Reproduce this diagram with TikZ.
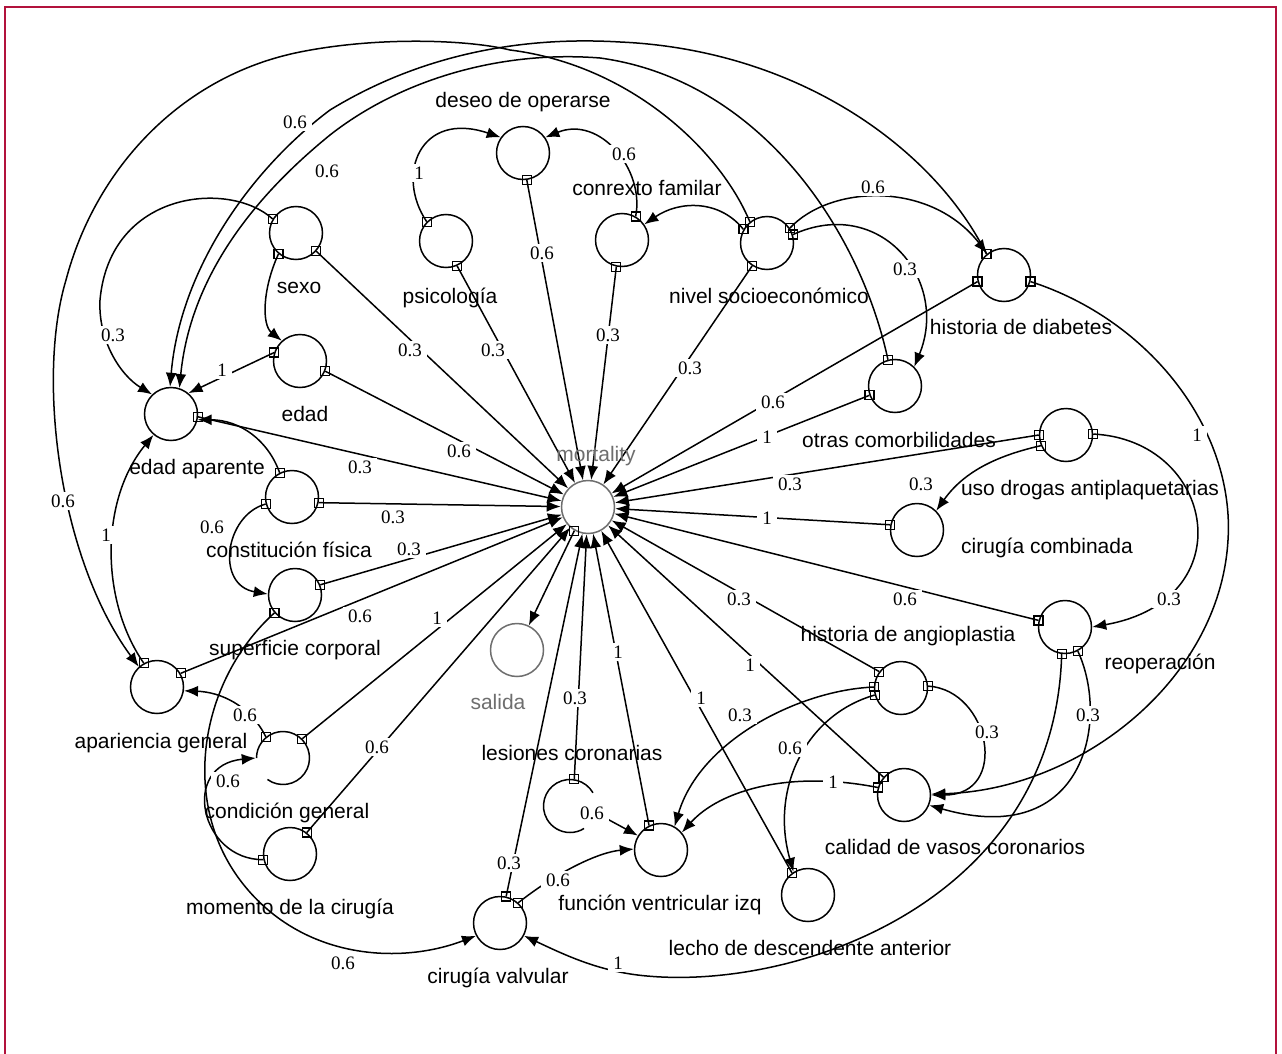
\documentclass[tikz,border=0pt]{standalone}
\usepackage{fontspec}
\setmainfont{Liberation Serif}
\newfontfamily\sansf{Liberation Sans}
\usetikzlibrary{arrows.meta}
\definecolor{frame}{RGB}{178,18,60}
\definecolor{utilgray}{RGB}{110,110,110}
\tikzset{
  var/.style={circle,draw,line width=1.5pt,minimum size=53pt,inner sep=0pt},
  util/.style={var,draw=utilgray},
  open/.style={var,draw=none},
  txt/.style={font=\sansf\fontsize{21}{24}\selectfont,inner sep=0pt,anchor=base},
  gtxt/.style={txt,text=utilgray},
  num/.style={font=\fontsize{19}{21}\selectfont,fill=white,inner xsep=5pt,inner ysep=3pt,text height=12.5pt,text depth=0pt},
  edge/.style={line width=1.5pt,-{Latex[length=14pt,width=11pt]}},
  mk/.style={line width=1.2pt},
  border/.style={draw=frame,line width=2.5pt},
}
\newcommand\mksq[1]{\draw[mk] (#1) ++(-4.5,-4.5) rectangle ++(9,9);}
\begin{document}
\begin{tikzpicture}[x=1pt,y=1pt]
\useasboundingbox (0,0) rectangle (1282,-1054);
\fill[white] (0,0) rectangle (1282,-1054);
\draw[border] (5,-7) rectangle (1276,-1090);

% ---------- variable nodes ----------
\node (deseo)    [var]  at (523,-153) {};
\node (sexo)     [var]  at (296,-233) {};
\node (psico)    [var]  at (446,-241) {};
\node (conrexto) [var]  at (622,-240) {};
\node (nivel)    [var]  at (767,-243) {};
\node (diabetes) [var]  at (1004,-275) {};
\node (edad)     [var]  at (300,-361) {};
\node (otras)    [var]  at (895,-386) {};
\node (edadap)   [var]  at (171,-414) {};
\node (uso)      [var]  at (1066,-435) {};
\node (constit)  [var]  at (292,-497) {};
\node (mort)     [util] at (588,-507) {};
\node (combin)   [var]  at (917,-530) {};
\node (superf)   [var]  at (295,-595) {};
\node (reop)     [var]  at (1065,-627) {};
\node (salida)   [util] at (517,-650) {};
\node (apar)     [var]  at (157,-687) {};
\node (angio)    [var]  at (901,-688) {};
\node (cond)     [open] at (283,-758) {};
\node (calidad)  [var]  at (904,-795) {};
\node (lesion)   [open] at (570,-806) {};
\node (func)     [var]  at (661,-850) {};
\node (momento)  [var]  at (290,-854) {};
\node (lecho)    [var]  at (808,-895) {};
\node (valv)     [var]  at (500,-923) {};
% open circles (drawn with a gap)
\draw[line width=1.5pt] (283,-758) ++(-126:26.5pt) arc[start angle=-126,end angle=180,radius=26.5pt];
\draw[line width=1.5pt] (570,-806) ++(30:26.5pt) arc[start angle=30,end angle=302,radius=26.5pt];

% ---------- edges into mortality ----------
\draw[edge] (sexo.-42) -- (mort);
\draw[edge] (psico.-66) -- (mort);
\draw[edge] (deseo.-82) -- (mort);
\draw[edge] (conrexto.-102) -- (mort);
\draw[edge] (nivel.-123) -- (mort);
\draw[edge] (diabetes.-166) -- (mort);
\draw[edge] (otras.-160) -- (mort);
\draw[edge] (uso.180) -- (mort);
\draw[edge] (combin.169) -- (mort);
\draw[edge] (reop.166) -- (mort);
\draw[edge] (angio.143) -- (mort);
\draw[edge] (calidad.139) -- (mort);
\draw[edge] (lecho.126) -- (mort);
\draw[edge] (func.116) -- (mort);
\draw[edge] (lesion.81) -- (mort);
\draw[edge] (valv.77) -- (mort);
\draw[edge] (momento.52) -- (mort);
\draw[edge] (cond.45) -- (mort);
\draw[edge] (superf.22) -- (mort);
\draw[edge] (apar.30) -- (mort);
\draw[edge] (constit.-12) -- (mort);
\draw[edge] (edadap.-6) -- (mort);
\draw[edge] (edad.-22) -- (mort);
\draw[edge] (mort.-120) -- (salida);

% ---------- long arcs over the top ----------
\draw[edge] (nivel.129) .. controls (720,-150) and (630,-65) .. (510,-50)
  .. controls (470,-40) and (380,-36) .. (300,-52)
  .. controls (180,-76) and (95,-170) .. (66,-280)
  .. controls (36,-380) and (60,-560) .. (apar.132);
\draw[edge] (diabetes.130) .. controls (935,-150) and (800,-50) .. (620,-42)
  .. controls (520,-36) and (420,-55) .. (330,-110)
  .. controls (250,-170) and (180,-270) .. (edadap.92);
\draw[edge] (otras.105) .. controls (860,-230) and (760,-80) .. (600,-58)
  .. controls (500,-50) and (400,-80) .. (330,-135)
  .. controls (250,-200) and (190,-280) .. (edadap.72);

% ---------- other edges ----------
\draw[edge] (nivel.33) .. controls (830,-185) and (930,-180) .. (diabetes.128);
\draw[edge] (nivel.18) .. controls (880,-195) and (950,-280) .. (otras.45);
\draw[edge] (nivel.150) .. controls (720,-200) and (680,-200) .. (conrexto.35);
\draw[edge] (psico.135) .. controls (395,-175) and (420,-110) .. (deseo.145);
\draw[edge] (conrexto.60) .. controls (645,-170) and (600,-115) .. (deseo.35);
\draw[edge] (sexo.-130) .. controls (262,-290) and (262,-325) .. (edad.132);
\draw[edge] (sexo.149) .. controls (230,-180) and (110,-190) .. (100,-300)
  .. controls (98,-340) and (120,-375) .. (edadap.134);
\draw[edge] (edad.162) -- (edadap.50);
\draw[edge] (constit.117) .. controls (268,-440) and (240,-420) .. (edadap.-12);
\draw[edge] (constit.-165) .. controls (225,-515) and (215,-585) .. (superf.178);
\draw[edge] (apar.119) .. controls (100,-600) and (100,-500) .. (edadap.-130);
\draw[edge] (cond.129) .. controls (250,-705) and (220,-692) .. (apar.-8);
\draw[edge] (momento.-168) .. controls (200,-860) and (180,-765) .. (cond.180);
\draw[edge] (superf.221) .. controls (200,-680) and (180,-800) .. (240,-880)
  .. controls (300,-960) and (400,-965) .. (valv.-152);
\draw[edge] (reop.-97) .. controls (1055,-900) and (800,-990) .. (647,-976)
  .. controls (600,-972) and (565,-955) .. (valv.-28);
\draw[edge] (angio.178) .. controls (800,-690) and (700,-740) .. (func.60);
\draw[edge] (angio.-165) .. controls (805,-715) and (770,-790) .. (lecho.122);
\draw[edge] (calidad.164) .. controls (790,-770) and (720,-790) .. (func.40);
\draw[edge] (lesion.-15) -- (func.148);
\draw[edge] (valv.48) .. controls (560,-870) and (600,-852) .. (func.178);
\draw[edge] (diabetes.-14) .. controls (1150,-320) and (1235,-430) .. (1228,-540)
  .. controls (1220,-680) and (1080,-790) .. (calidad.2);
\draw[edge] (angio.4) .. controls (990,-690) and (1010,-795) .. (calidad.0);
\draw[edge] (reop.-62) .. controls (1110,-720) and (1085,-850) .. (calidad.-22);
\draw[edge] (uso.2) .. controls (1215,-440) and (1245,-600) .. (reop.0);
\draw[edge] (uso.-157) .. controls (1000,-455) and (965,-470) .. (combin.45);

% ---------- source markers ----------
\foreach \a in {sexo.-42,sexo.-130,sexo.149,psico.-66,psico.135,deseo.-82,
  conrexto.-102,conrexto.60,nivel.-123,nivel.129,nivel.150,nivel.33,nivel.18,
  diabetes.-166,diabetes.130,diabetes.-14,otras.-160,otras.105,
  uso.180,uso.-157,uso.2,combin.169,reop.166,reop.-97,reop.-62,
  angio.143,angio.178,angio.-165,angio.4,calidad.139,calidad.164,
  lecho.126,func.116,lesion.81,valv.77,valv.48,momento.52,momento.-168,
  cond.45,cond.129,superf.22,superf.221,apar.30,apar.119,
  constit.-12,constit.117,constit.-165,edadap.-6,edad.-22,edad.162,mort.-120}
  {\mksq{\a}}

% ---------- node names ----------
\node (t1)  [txt]  at (523,-108) {deseo de operarse};
\node (t2)  [txt]  at (647,-195) {conrexto familar};
\node (t3)  [txt]  at (450,-303) {psicología};
\node (t4)  [txt]  at (769,-303) {nivel socioeconómico};
\node (t5)  [txt]  at (299,-293) {sexo};
\node (t6)  [txt]  at (1021,-334) {historia de diabetes};
\node (t7)  [txt]  at (305,-421) {edad};
\node (t8)  [txt]  at (197,-474) {edad aparente};
\node (t9)  [txt]  at (289,-557) {constitución física};
\node (t10) [txt]  at (295,-655) {superficie corporal};
\node (t11) [txt]  at (161,-748) {apariencia general};
\node (t12) [txt]  at (287,-818) {condición general};
\node (t13) [txt]  at (290,-914) {momento de la cirugía};
\node (t14) [gtxt] at (498,-709) {salida};
\node (t15) [gtxt] at (596,-461) {mortality};
\node (t16) [txt]  at (572,-760) {lesiones coronarias};
\node (t17) [txt]  at (660,-910) {función ventricular izq};
\node (t18) [txt]  at (498,-983) {cirugía valvular};
\node (t19) [txt]  at (810,-955) {lecho de descendente anterior};
\node (t20) [txt]  at (955,-854) {calidad de vasos coronarios};
\node (t21) [txt]  at (908,-641) {historia de angioplastia};
\node (t22) [txt]  at (1160,-669) {reoperación};
\node (t23) [txt]  at (1047,-553) {cirugía combinada};
\node (t24) [txt]  at (1090,-495) {uso drogas antiplaquetarias};
\node (t25) [txt]  at (899,-447) {otras comorbilidades};

% ---------- edge weights ----------
\node (e1)  [num] at (410,-350) {0.3};
\node (e2)  [num] at (493,-350) {0.3};
\node (e3)  [num] at (542,-253) {0.6};
\node (e4)  [num] at (608,-335) {0.3};
\node (e5)  [num] at (690,-368) {0.3};
\node (e6)  [num] at (773,-402) {0.6};
\node (e7)  [num] at (767,-437) {1};
\node (e8)  [num] at (790,-484) {0.3};
\node (e9)  [num] at (767,-518) {1};
\node (e10) [num] at (905,-599) {0.6};
\node (e11) [num] at (739,-599) {0.3};
\node (e12) [num] at (750,-665) {1};
\node (e13) [num] at (701,-698) {1};
\node (e14) [num] at (618,-652) {1};
\node (e15) [num] at (575,-698) {0.3};
\node (e16) [num] at (509,-863) {0.3};
\node (e17) [num] at (377,-747) {0.6};
\node (e18) [num] at (437,-618) {1};
\node (e19) [num] at (409,-549) {0.3};
\node (e20) [num] at (360,-616) {0.6};
\node (e21) [num] at (393,-517) {0.3};
\node (e22) [num] at (360,-467) {0.3};
\node (e23) [num] at (459,-451) {0.6};
\node (e24) [num] at (113,-335) {0.3};
\node (e25) [num] at (222,-370) {1};
\node (e26) [num] at (63,-501) {0.6};
\node (e27) [num] at (295,-122) {0.6};
\node (e28) [num] at (327,-171) {0.6};
\node (e29) [num] at (106,-535) {1};
\node (e30) [num] at (212,-527) {0.6};
\node (e31) [num] at (245,-715) {0.6};
\node (e32) [num] at (228,-781) {0.6};
\node (e33) [num] at (343,-963) {0.6};
\node (e34) [num] at (419,-173) {1};
\node (e35) [num] at (624,-154) {0.6};
\node (e36) [num] at (873,-187) {0.6};
\node (e37) [num] at (905,-269) {0.3};
\node (e38) [num] at (1197,-435) {1};
\node (e39) [num] at (921,-484) {0.3};
\node (e40) [num] at (1169,-599) {0.3};
\node (e41) [num] at (987,-732) {0.3};
\node (e42) [num] at (1088,-715) {0.3};
\node (e43) [num] at (618,-963) {1};
\node (e44) [num] at (740,-715) {0.3};
\node (e45) [num] at (790,-748) {0.6};
\node (e46) [num] at (833,-782) {1};
\node (e47) [num] at (592,-813) {0.6};
\node (e48) [num] at (558,-880) {0.6};
\end{tikzpicture}
\end{document}
